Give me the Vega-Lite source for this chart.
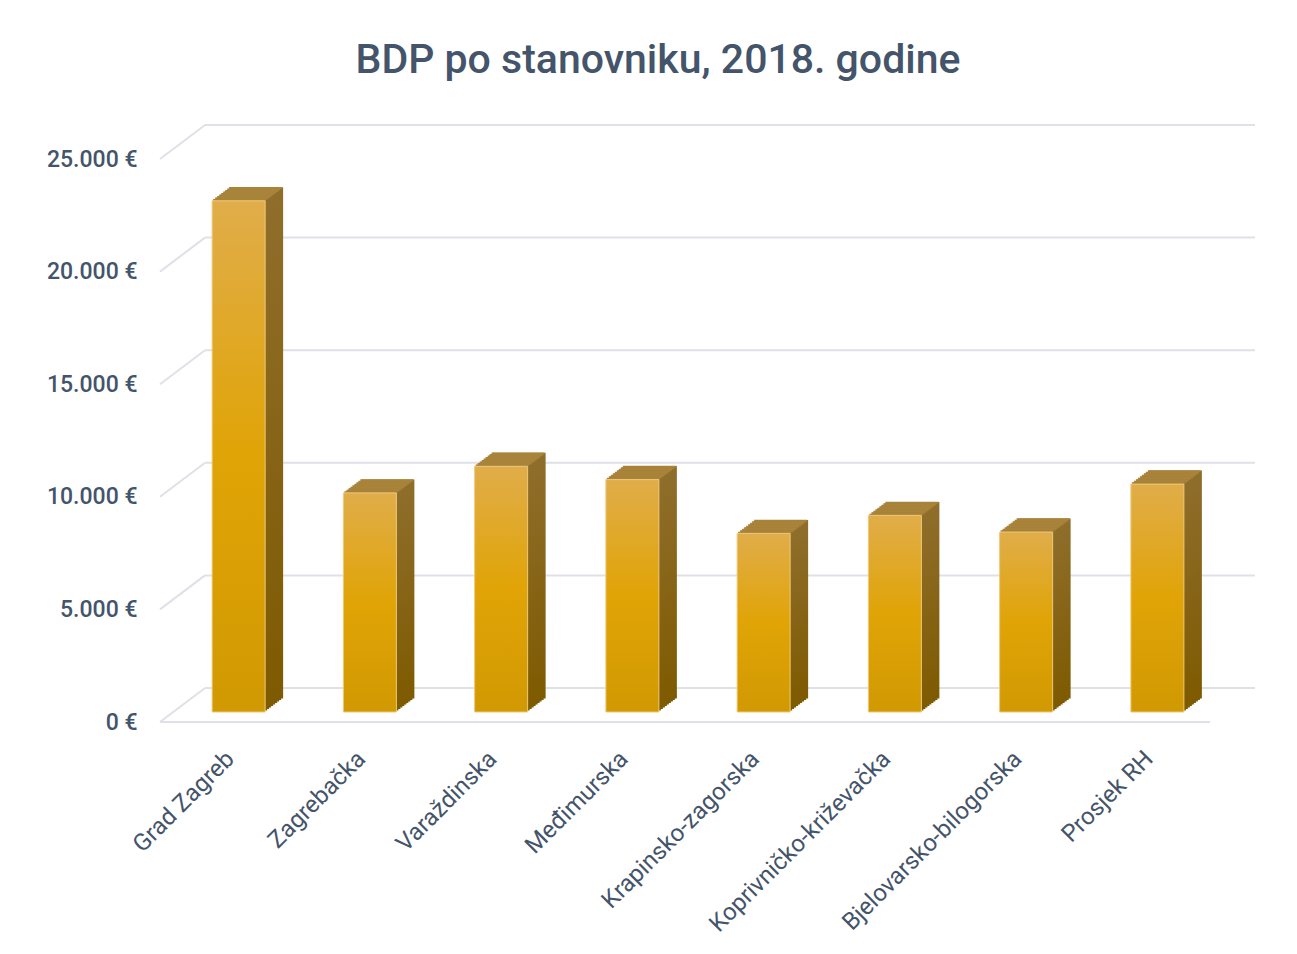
{
  "$schema": "https://vega.github.io/schema/vega-lite/v6.json",
  "autosize": {"type": "none"},
  "padding": {"left": 173, "top": 149, "right": 74, "bottom": 242},
  "width": 1050,
  "height": 563,
  "background": "white",
  "config": {
    "view": {"stroke": null},
    "axisX": {"title": null, "domain": false, "ticks": false, "grid": false, "labelAngle": -45, "labelAlign": "right", "labelBaseline": "middle", "labelPadding": 43, "labelOffset": -8, "labelFont": "Roboto", "labelFontSize": 24, "labelFontWeight": 400, "labelColor": "#44546a", "labelLimit": 400},
    "axisY": {"title": null, "domain": false, "ticks": false, "grid": false, "tickCount": 5, "labelExpr": "replace(format(datum.value, ','), ',', '.') + ' €'", "labelPadding": 36, "labelOffset": 10, "labelFont": "Roboto", "labelFontSize": 23, "labelFontWeight": 500, "labelColor": "#44546a"}
  },
  "title": {"text": "BDP po stanovniku, 2018. godine", "font": "Roboto", "fontSize": 41, "fontWeight": 500, "color": "#44546a", "anchor": "middle", "dx": -40, "baseline": "alphabetic", "offset": 7},
  "datasets": {
    "grid": [{"v": 0}, {"v": 5000}, {"v": 10000}, {"v": 15000}, {"v": 20000}, {"v": 25000}]
  },
  "data": {"values": [
    {"regija": "Grad Zagreb", "bdp": 22700},
    {"regija": "Zagrebačka", "bdp": 9730},
    {"regija": "Varaždinska", "bdp": 10910},
    {"regija": "Međimurska", "bdp": 10320},
    {"regija": "Krapinsko-zagorska", "bdp": 7930},
    {"regija": "Koprivničko-križevačka", "bdp": 8730},
    {"regija": "Bjelovarsko-bilogorska", "bdp": 7990},
    {"regija": "Prosjek RH", "bdp": 10120}
  ]},
  "layer": [
    {"data": {"name": "grid"}, "mark": {"type": "rule", "color": "#dfe1e8", "strokeWidth": 2, "xOffset": 32, "x2Offset": 32, "yOffset": -24},
     "encoding": {"x": {"datum": "Grad Zagreb", "bandPosition": 0, "type": "nominal", "title": null, "scale": {"domain": ["Grad Zagreb", "Zagrebačka", "Varaždinska", "Međimurska", "Krapinsko-zagorska", "Koprivničko-križevačka", "Bjelovarsko-bilogorska", "Prosjek RH"], "paddingInner": 0, "paddingOuter": 0}}, "x2": {"datum": "Prosjek RH", "bandPosition": 1}, "y": {"field": "v", "type": "quantitative", "title": null, "scale": {"domain": [0, 25000], "nice": false}}}},
    {"data": {"name": "grid"}, "mark": {"type": "point", "shape": "M-1,0.7556L1,-0.7556", "size": 2025, "filled": false, "stroke": "#dfe1e8", "strokeWidth": 2, "opacity": 1, "xOffset": 9.5, "yOffset": -7},
     "encoding": {"x": {"datum": "Grad Zagreb", "bandPosition": 0, "type": "nominal", "title": null}, "y": {"field": "v", "type": "quantitative", "title": null}}},
    {"mark": {"type": "rule", "color": "#dfe1e8", "strokeWidth": 2, "xOffset": -13, "x2Offset": -13, "yOffset": 10},
     "encoding": {"x": {"datum": "Grad Zagreb", "bandPosition": 0, "type": "nominal", "title": null}, "x2": {"datum": "Prosjek RH", "bandPosition": 1}, "y": {"datum": 0, "type": "quantitative", "title": null}}},
    {"mark": {"type": "bar", "width": 53, "xOffset": 18, "x2Offset": 18, "yOffset": -13.5, "y2Offset": -13.5, "color": {"gradient": "linear", "x1": 0, "y1": 0, "x2": 0, "y2": 1, "stops": [{"offset": 0, "color": "#8f6e2c"}, {"offset": 1, "color": "#7e5a00"}]}},
     "encoding": {"x": {"field": "regija", "type": "nominal", "sort": null, "title": null}, "y": {"field": "bdp", "type": "quantitative", "title": null}}},
    {"mark": {"type": "bar", "width": 53, "xOffset": 16, "x2Offset": 16, "yOffset": -12, "y2Offset": -12, "color": {"gradient": "linear", "x1": 0, "y1": 0, "x2": 0, "y2": 1, "stops": [{"offset": 0, "color": "#8f6e2c"}, {"offset": 1, "color": "#7e5a00"}]}},
     "encoding": {"x": {"field": "regija", "type": "nominal", "sort": null, "title": null}, "y": {"field": "bdp", "type": "quantitative", "title": null}}},
    {"mark": {"type": "bar", "width": 53, "xOffset": 14, "x2Offset": 14, "yOffset": -10.5, "y2Offset": -10.5, "color": {"gradient": "linear", "x1": 0, "y1": 0, "x2": 0, "y2": 1, "stops": [{"offset": 0, "color": "#8f6e2c"}, {"offset": 1, "color": "#7e5a00"}]}},
     "encoding": {"x": {"field": "regija", "type": "nominal", "sort": null, "title": null}, "y": {"field": "bdp", "type": "quantitative", "title": null}}},
    {"mark": {"type": "bar", "width": 53, "xOffset": 12, "x2Offset": 12, "yOffset": -9, "y2Offset": -9, "color": {"gradient": "linear", "x1": 0, "y1": 0, "x2": 0, "y2": 1, "stops": [{"offset": 0, "color": "#8f6e2c"}, {"offset": 1, "color": "#7e5a00"}]}},
     "encoding": {"x": {"field": "regija", "type": "nominal", "sort": null, "title": null}, "y": {"field": "bdp", "type": "quantitative", "title": null}}},
    {"mark": {"type": "bar", "width": 53, "xOffset": 10, "x2Offset": 10, "yOffset": -7.5, "y2Offset": -7.5, "color": {"gradient": "linear", "x1": 0, "y1": 0, "x2": 0, "y2": 1, "stops": [{"offset": 0, "color": "#8f6e2c"}, {"offset": 1, "color": "#7e5a00"}]}},
     "encoding": {"x": {"field": "regija", "type": "nominal", "sort": null, "title": null}, "y": {"field": "bdp", "type": "quantitative", "title": null}}},
    {"mark": {"type": "bar", "width": 53, "xOffset": 8, "x2Offset": 8, "yOffset": -6, "y2Offset": -6, "color": {"gradient": "linear", "x1": 0, "y1": 0, "x2": 0, "y2": 1, "stops": [{"offset": 0, "color": "#8f6e2c"}, {"offset": 1, "color": "#7e5a00"}]}},
     "encoding": {"x": {"field": "regija", "type": "nominal", "sort": null, "title": null}, "y": {"field": "bdp", "type": "quantitative", "title": null}}},
    {"mark": {"type": "bar", "width": 53, "xOffset": 6, "x2Offset": 6, "yOffset": -4.5, "y2Offset": -4.5, "color": {"gradient": "linear", "x1": 0, "y1": 0, "x2": 0, "y2": 1, "stops": [{"offset": 0, "color": "#8f6e2c"}, {"offset": 1, "color": "#7e5a00"}]}},
     "encoding": {"x": {"field": "regija", "type": "nominal", "sort": null, "title": null}, "y": {"field": "bdp", "type": "quantitative", "title": null}}},
    {"mark": {"type": "bar", "width": 53, "xOffset": 4, "x2Offset": 4, "yOffset": -3, "y2Offset": -3, "color": {"gradient": "linear", "x1": 0, "y1": 0, "x2": 0, "y2": 1, "stops": [{"offset": 0, "color": "#8f6e2c"}, {"offset": 1, "color": "#7e5a00"}]}},
     "encoding": {"x": {"field": "regija", "type": "nominal", "sort": null, "title": null}, "y": {"field": "bdp", "type": "quantitative", "title": null}}},
    {"mark": {"type": "bar", "width": 53, "xOffset": 2, "x2Offset": 2, "yOffset": -1.5, "y2Offset": -1.5, "color": {"gradient": "linear", "x1": 0, "y1": 0, "x2": 0, "y2": 1, "stops": [{"offset": 0, "color": "#8f6e2c"}, {"offset": 1, "color": "#7e5a00"}]}},
     "encoding": {"x": {"field": "regija", "type": "nominal", "sort": null, "title": null}, "y": {"field": "bdp", "type": "quantitative", "title": null}}},
    {"mark": {"type": "tick", "size": 53, "thickness": 2, "color": "#a8833a", "opacity": 1, "xOffset": 1, "yOffset": -0.75}, "encoding": {"x": {"field": "regija", "type": "nominal", "sort": null, "title": null}, "y": {"field": "bdp", "type": "quantitative", "title": null}}},
    {"mark": {"type": "tick", "size": 53, "thickness": 2, "color": "#a8833a", "opacity": 1, "xOffset": 3, "yOffset": -2.25}, "encoding": {"x": {"field": "regija", "type": "nominal", "sort": null, "title": null}, "y": {"field": "bdp", "type": "quantitative", "title": null}}},
    {"mark": {"type": "tick", "size": 53, "thickness": 2, "color": "#a8833a", "opacity": 1, "xOffset": 5, "yOffset": -3.75}, "encoding": {"x": {"field": "regija", "type": "nominal", "sort": null, "title": null}, "y": {"field": "bdp", "type": "quantitative", "title": null}}},
    {"mark": {"type": "tick", "size": 53, "thickness": 2, "color": "#a8833a", "opacity": 1, "xOffset": 7, "yOffset": -5.25}, "encoding": {"x": {"field": "regija", "type": "nominal", "sort": null, "title": null}, "y": {"field": "bdp", "type": "quantitative", "title": null}}},
    {"mark": {"type": "tick", "size": 53, "thickness": 2, "color": "#a8833a", "opacity": 1, "xOffset": 9, "yOffset": -6.75}, "encoding": {"x": {"field": "regija", "type": "nominal", "sort": null, "title": null}, "y": {"field": "bdp", "type": "quantitative", "title": null}}},
    {"mark": {"type": "tick", "size": 53, "thickness": 2, "color": "#a8833a", "opacity": 1, "xOffset": 11, "yOffset": -8.25}, "encoding": {"x": {"field": "regija", "type": "nominal", "sort": null, "title": null}, "y": {"field": "bdp", "type": "quantitative", "title": null}}},
    {"mark": {"type": "tick", "size": 53, "thickness": 2, "color": "#a8833a", "opacity": 1, "xOffset": 13, "yOffset": -9.75}, "encoding": {"x": {"field": "regija", "type": "nominal", "sort": null, "title": null}, "y": {"field": "bdp", "type": "quantitative", "title": null}}},
    {"mark": {"type": "tick", "size": 53, "thickness": 2, "color": "#a8833a", "opacity": 1, "xOffset": 15, "yOffset": -11.25}, "encoding": {"x": {"field": "regija", "type": "nominal", "sort": null, "title": null}, "y": {"field": "bdp", "type": "quantitative", "title": null}}},
    {"mark": {"type": "tick", "size": 53, "thickness": 2, "color": "#a8833a", "opacity": 1, "xOffset": 17, "yOffset": -12.75}, "encoding": {"x": {"field": "regija", "type": "nominal", "sort": null, "title": null}, "y": {"field": "bdp", "type": "quantitative", "title": null}}},
    {"mark": {"type": "bar", "width": 53, "stroke": "#efc97a", "strokeWidth": 1, "color": {"gradient": "linear", "x1": 0, "y1": 0, "x2": 0, "y2": 1, "stops": [{"offset": 0, "color": "#e0ad4a"}, {"offset": 0.5, "color": "#e0a406"}, {"offset": 1, "color": "#d19902"}]}},
     "encoding": {"x": {"field": "regija", "type": "nominal", "sort": null, "title": null}, "y": {"field": "bdp", "type": "quantitative", "title": null}}}
  ]
}
